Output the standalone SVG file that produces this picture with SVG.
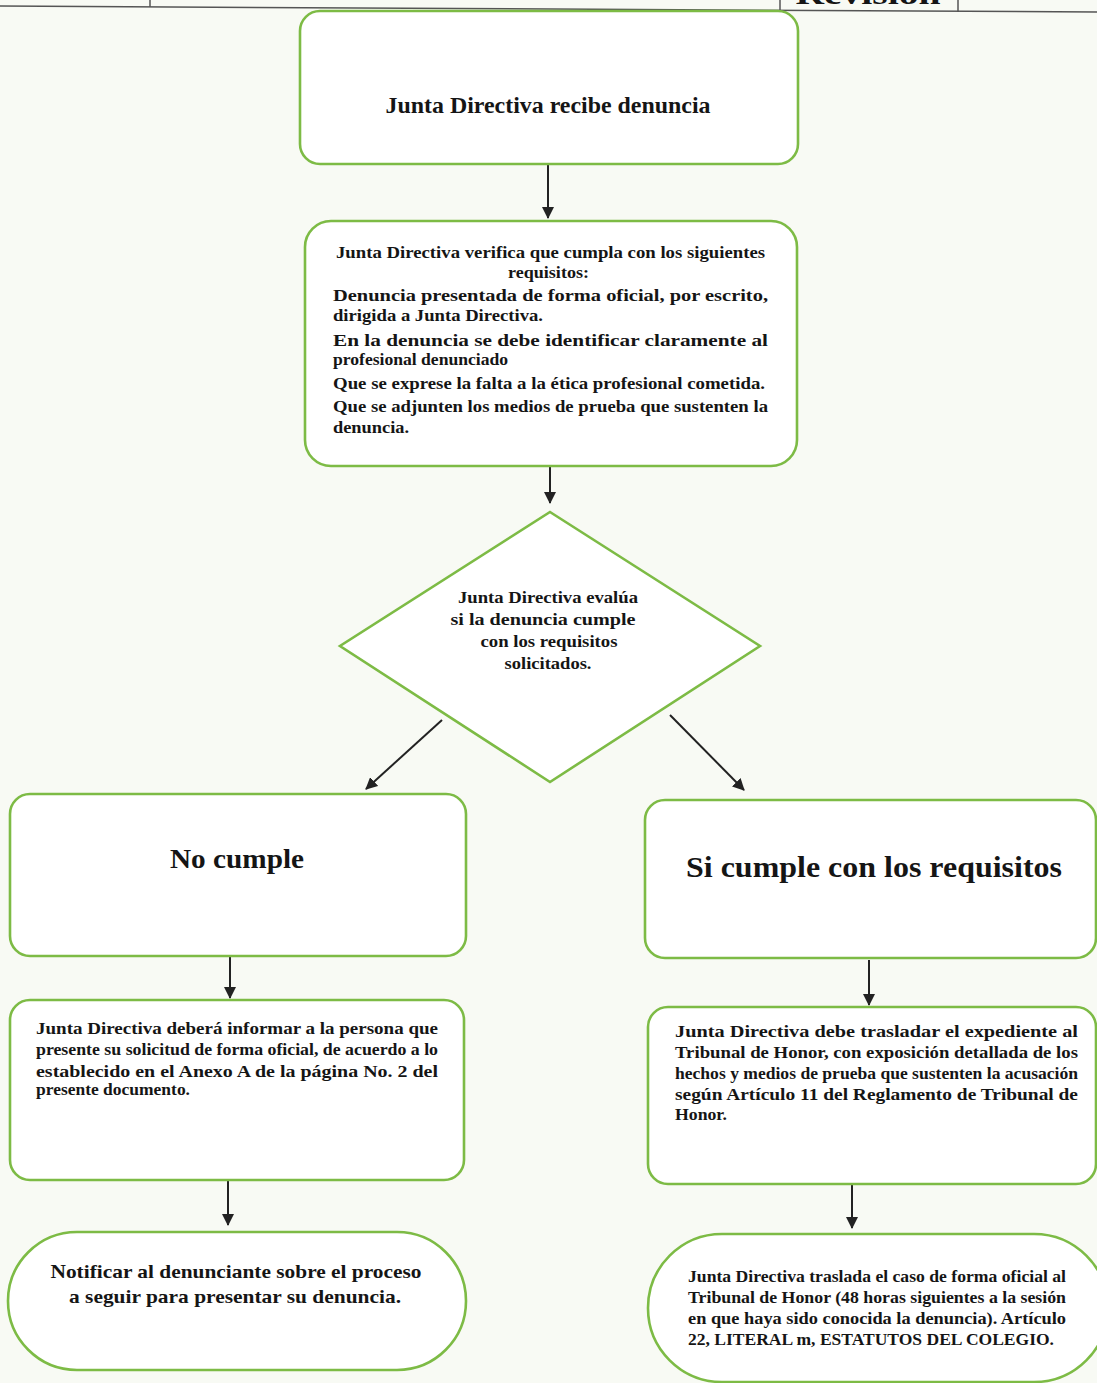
<svg xmlns="http://www.w3.org/2000/svg" width="1097" height="1383" viewBox="0 0 1097 1383">
<style>
.bg{fill:#f8faf4}
.box{fill:#ffffff;stroke:#7dbb45;stroke-width:2.6}
.t{font-family:"Liberation Serif","Times New Roman",serif;font-weight:bold;fill:#151515}
.c{text-anchor:middle}
.hdr{stroke:#555;stroke-width:1.5;fill:none}
.con{stroke:#222;stroke-width:2;fill:none;marker-end:url(#ah)}
</style>
<defs>
<marker id="ah" viewBox="0 0 12 12" refX="11" refY="6" markerWidth="12" markerHeight="12" markerUnits="userSpaceOnUse" orient="auto">
<path d="M0,0 L12,6 L0,12 z" fill="#222"/>
</marker>
</defs>
<rect class="bg" x="0" y="0" width="1097" height="1383"/>

<g id="header">
<path class="hdr" d="M0,6 L1097,12"/>
<path class="hdr" d="M150,0 V7 M780,0 V12 M958,0 V12"/>
<text class="t" x="868" y="4" text-anchor="middle" font-size="30" textLength="145" lengthAdjust="spacingAndGlyphs">Revisión</text>
</g>

<g id="connectors">
<line class="con" x1="548" y1="164" x2="548" y2="218"/>
<line class="con" x1="550" y1="466" x2="550" y2="503"/>
<line class="con" x1="442" y1="720" x2="366" y2="789"/>
<line class="con" x1="670" y1="715" x2="744" y2="790"/>
<line class="con" x1="230" y1="957" x2="230" y2="998"/>
<line class="con" x1="869" y1="960" x2="869" y2="1005"/>
<line class="con" x1="228" y1="1180" x2="228" y2="1225"/>
<line class="con" x1="852" y1="1184" x2="852" y2="1228"/>
</g>

<g id="n1">
<rect class="box" x="300" y="11" width="498" height="153" rx="20"/>
<text class="t c" x="548" y="113" font-size="23" textLength="325" lengthAdjust="spacingAndGlyphs">Junta Directiva recibe denuncia</text>
</g>

<g id="n2">
<rect class="box" x="305" y="221" width="492" height="245" rx="26"/>
<g class="t" font-size="17">
<text x="336" y="258" textLength="429" lengthAdjust="spacingAndGlyphs">Junta Directiva verifica que cumpla con los siguientes</text>
<text x="508" y="278" textLength="81" lengthAdjust="spacingAndGlyphs">requisitos:</text>
<text x="333" y="301" textLength="435" lengthAdjust="spacingAndGlyphs">Denuncia presentada de forma oficial, por escrito,</text>
<text x="333" y="321" textLength="210" lengthAdjust="spacingAndGlyphs">dirigida a Junta Directiva.</text>
<text x="333" y="346" textLength="435" lengthAdjust="spacingAndGlyphs">En la denuncia se debe identificar claramente al</text>
<text x="333" y="365" textLength="175" lengthAdjust="spacingAndGlyphs">profesional denunciado</text>
<text x="333" y="389" textLength="432" lengthAdjust="spacingAndGlyphs">Que se exprese la falta a la ética profesional cometida.</text>
<text x="333" y="412" textLength="435" lengthAdjust="spacingAndGlyphs">Que se adjunten los medios de prueba que sustenten la</text>
<text x="333" y="433" textLength="76" lengthAdjust="spacingAndGlyphs">denuncia.</text>
</g>
</g>

<g id="n3">
<polygon class="box" points="550,512 760,646 550,782 340,646"/>
<g class="t c" font-size="17">
<text x="548" y="603" textLength="180" lengthAdjust="spacingAndGlyphs">Junta Directiva evalúa</text>
<text x="543" y="625" textLength="185" lengthAdjust="spacingAndGlyphs">si la denuncia cumple</text>
<text x="549" y="647" textLength="137" lengthAdjust="spacingAndGlyphs">con los requisitos</text>
<text x="548" y="669" textLength="87" lengthAdjust="spacingAndGlyphs">solicitados.</text>
</g>
</g>

<g id="n4">
<rect class="box" x="10" y="794" width="456" height="162" rx="20"/>
<text class="t c" x="237" y="868" font-size="28" textLength="134" lengthAdjust="spacingAndGlyphs">No cumple</text>
</g>

<g id="n5">
<rect class="box" x="645" y="800" width="451" height="158" rx="20"/>
<text class="t c" x="874" y="877" font-size="30" textLength="376" lengthAdjust="spacingAndGlyphs">Si cumple con los requisitos</text>
</g>

<g id="n6">
<rect class="box" x="10" y="1000" width="454" height="180" rx="20"/>
<g class="t" font-size="16">
<text x="36" y="1034" textLength="402" lengthAdjust="spacingAndGlyphs">Junta Directiva deberá informar a la persona que</text>
<text x="36" y="1055" textLength="402" lengthAdjust="spacingAndGlyphs">presente su solicitud de forma oficial, de acuerdo a lo</text>
<text x="36" y="1077" textLength="402" lengthAdjust="spacingAndGlyphs">establecido en el Anexo A de la página No. 2 del</text>
<text x="36" y="1095" textLength="154" lengthAdjust="spacingAndGlyphs">presente documento.</text>
</g>
</g>

<g id="n7">
<rect class="box" x="648" y="1007" width="448" height="177" rx="20"/>
<g class="t" font-size="16.5">
<text x="675" y="1037" textLength="403" lengthAdjust="spacingAndGlyphs">Junta Directiva debe trasladar el expediente al</text>
<text x="675" y="1058" textLength="403" lengthAdjust="spacingAndGlyphs">Tribunal de Honor, con exposición detallada de los</text>
<text x="675" y="1079" textLength="403" lengthAdjust="spacingAndGlyphs">hechos y medios de prueba que sustenten la acusación</text>
<text x="675" y="1100" textLength="403" lengthAdjust="spacingAndGlyphs">según Artículo 11 del Reglamento de Tribunal de</text>
<text x="675" y="1120" textLength="52" lengthAdjust="spacingAndGlyphs">Honor.</text>
</g>
</g>

<g id="n8">
<rect class="box" x="8" y="1232" width="458" height="138" rx="69"/>
<g class="t c" font-size="19">
<text x="236" y="1278" textLength="371" lengthAdjust="spacingAndGlyphs">Notificar al denunciante sobre el proceso</text>
<text x="235" y="1303" textLength="332" lengthAdjust="spacingAndGlyphs">a seguir para presentar su denuncia.</text>
</g>
</g>

<g id="n9">
<rect class="box" x="648" y="1234" width="460" height="148" rx="74"/>
<g class="t" font-size="16">
<text x="688" y="1282" textLength="378" lengthAdjust="spacingAndGlyphs">Junta Directiva traslada el caso de forma oficial al</text>
<text x="688" y="1303" textLength="378" lengthAdjust="spacingAndGlyphs">Tribunal de Honor (48 horas siguientes a la sesión</text>
<text x="688" y="1324" textLength="378" lengthAdjust="spacingAndGlyphs">en que haya sido conocida la denuncia). Artículo</text>
<text x="688" y="1345" textLength="366" lengthAdjust="spacingAndGlyphs">22, LITERAL m, ESTATUTOS DEL COLEGIO.</text>
</g>
</g>
</svg>
